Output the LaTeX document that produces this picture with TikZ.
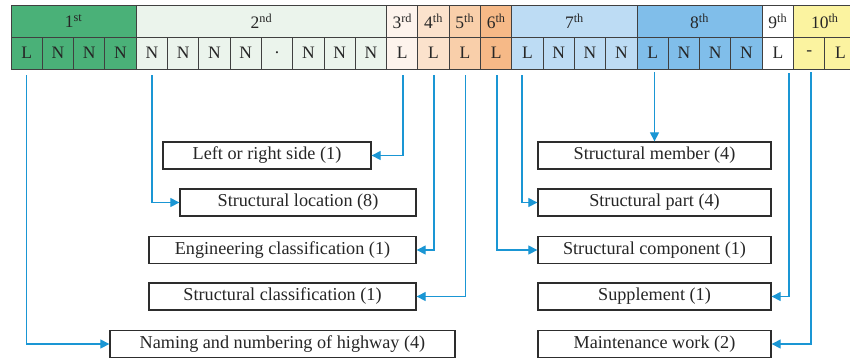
\documentclass[tikz,border=0pt]{standalone}
\usepackage{fontspec}
\setmainfont{Liberation Serif}
\usetikzlibrary{arrows.meta}
\definecolor{gA}{RGB}{74,177,120}
\definecolor{gB}{RGB}{235,244,236}
\definecolor{gC}{RGB}{253,243,236}
\definecolor{gD}{RGB}{251,226,204}
\definecolor{gE}{RGB}{249,207,170}
\definecolor{gF}{RGB}{246,185,135}
\definecolor{gG}{RGB}{189,220,244}
\definecolor{gH}{RGB}{128,190,234}
\definecolor{gI}{RGB}{255,255,255}
\definecolor{gJ}{RGB}{251,243,160}
\definecolor{tabline}{RGB}{64,64,64}
\definecolor{boxline}{RGB}{45,45,45}
\definecolor{cblue}{RGB}{26,150,212}
\begin{document}
\begin{tikzpicture}[x=1pt,y=-1pt,
  cell/.style={draw=tabline, line width=0.9pt, minimum width=31.3pt, minimum height=32pt,
    inner sep=0pt, outer sep=0pt, anchor=north west, text=black!85,
    font=\fontsize{17.5}{17.5}\selectfont},
  hdr/.style={cell, minimum width=#1},
  box/.style={draw=boxline, line width=1.3pt, inner sep=0pt, minimum height=27pt,
    text=black!85, font=\fontsize{18.2}{18.2}\selectfont},
  conn/.style={draw=cblue, line width=1.2pt, -{Triangle[length=9pt,width=9pt]}}]
\useasboundingbox (0,0) rectangle (850,360);
\fill[white] (0,0) rectangle (850,360);
% header row
\node[hdr=125.2pt, fill=gA] (h1) at (11,5) {1\textsuperscript{st}};
\node[hdr=250.4pt, fill=gB] (h2) at (136.2,5) {2\textsuperscript{nd}};
\node[hdr=31.3pt, fill=gC] (h3) at (386.6,5) {3\textsuperscript{rd}};
\node[hdr=31.3pt, fill=gD] (h4) at (417.9,5) {4\textsuperscript{th}};
\node[hdr=31.3pt, fill=gE] (h5) at (449.2,5) {5\textsuperscript{th}};
\node[hdr=31.3pt, fill=gF] (h6) at (480.5,5) {6\textsuperscript{th}};
\node[hdr=125.2pt, fill=gG] (h7) at (511.8,5) {7\textsuperscript{th}};
\node[hdr=125.2pt, fill=gH] (h8) at (637.0,5) {8\textsuperscript{th}};
\node[hdr=31.3pt, fill=gI] (h9) at (762.2,5) {9\textsuperscript{th}};
\node[hdr=62.6pt, fill=gJ] (h10) at (793.5,5) {10\textsuperscript{th}};
% code row
\foreach \i/\c/\t in {0/gA/L,1/gA/N,2/gA/N,3/gA/N,
  4/gB/N,5/gB/N,6/gB/N,7/gB/N,8/gB/.,9/gB/N,10/gB/N,11/gB/N,
  12/gC/L,13/gD/L,14/gE/L,15/gF/L,
  16/gG/L,17/gG/N,18/gG/N,19/gG/N,
  20/gH/L,21/gH/N,22/gH/N,23/gH/N,
  24/gI/L,25/gJ/-,26/gJ/L}
  \node[cell, fill=\c] (k\i) at ({11+\i*31.3},37) {\t};
% boxes
\node[box, minimum width=208pt] (lr) at (267,155.5) {Left or right side (1)};
\node[box, minimum width=236pt] (sl) at (298,202.5) {Structural location (8)};
\node[box, minimum width=267pt] (ec) at (282.5,250) {Engineering classification (1)};
\node[box, minimum width=267pt] (sc) at (282.5,296.5) {Structural classification (1)};
\node[box, minimum width=345pt] (nh) at (282.5,344) {Naming and numbering of highway (4)};
\node[box, minimum width=233pt] (sm) at (654.5,155.5) {Structural member (4)};
\node[box, minimum width=233pt] (sp) at (654.5,202.5) {Structural part (4)};
\node[box, minimum width=233pt] (scp) at (654.5,250) {Structural component (1)};
\node[box, minimum width=233pt] (su) at (654.5,296.5) {Supplement (1)};
\node[box, minimum width=233pt] (mw) at (654.5,344) {Maintenance work (2)};
% connector starts
\coordinate (s1) at (26.7,75);
\coordinate (s2) at (152,75);
\coordinate (s3) at (403,75);
\coordinate (s4) at (434,75);
\coordinate (s5) at (465.5,75);
\coordinate (s6) at (497,75);
\coordinate (s7) at (522,75);
\coordinate (s8) at (654.5,72);
\coordinate (s9) at (789,73);
\coordinate (s10) at (811,72);
% connectors
\draw[conn] (s1) |- (nh.west);
\draw[conn] (s2) |- (sl.west);
\draw[conn] (s3) |- (lr.east);
\draw[conn] (s4) |- (ec.east);
\draw[conn] (s5) |- (sc.east);
\draw[conn] (s6) |- (scp.west);
\draw[conn] (s7) |- (sp.west);
\draw[conn] (s8) -- (sm.north);
\draw[conn] (s9) |- (su.east);
\draw[conn] (s10) |- (mw.east);
\end{tikzpicture}
\end{document}
